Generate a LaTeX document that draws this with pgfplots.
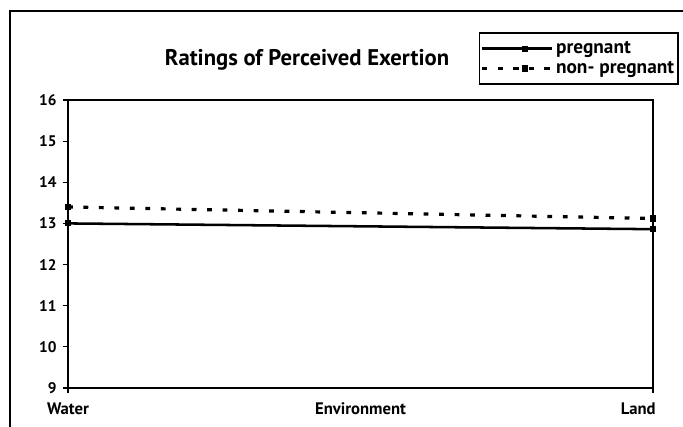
\documentclass[border=0pt]{standalone}
\usepackage{fontspec}
\setmainfont{PT Sans}
\usepackage{pgfplots}
\pgfplotsset{compat=1.18}

\begin{document}
\begin{tikzpicture}
% 1 px of the reference = 0.75pt
\useasboundingbox (-51pt,-29.25pt) rectangle (461.25pt,291pt);
\draw[line width=0.9pt] (-43.5pt,-29.25pt) -- (-43.5pt,282.75pt) -- (461.25pt,282.75pt);
\begin{axis}[
    at={(0,0)}, anchor=south west,
    scale only axis,
    width=438.75pt, height=216pt,
    xmin=0, xmax=1,
    ymin=9, ymax=16,
    ytick={9,10,...,16},
    xtick={0,1},
    xticklabels={Water,\makebox[0pt][r]{Land\hspace*{-2pt}}},
    extra x ticks={0.5},
    extra x tick labels={Environment},
    extra x tick style={major tick length=0pt, tick label style={yshift=-4pt}},
    xtick pos=bottom, ytick pos=left,
    tick align=outside,
    major tick length=4pt,
    tick style={line width=0.9pt, black},
    axis line style={line width=1.2pt},
    /pgf/number format/assume math mode=true,
    ticklabel style={font=\fontsize{11.5}{13}\selectfont\bfseries},
    xticklabel style={font=\fontsize{12.5}{14}\selectfont\bfseries, text height=9pt, yshift=-3pt},
    yticklabel style={xshift=-1pt},
    legend style={
        at={(1.0444,1.236)}, anchor=north east,
        draw=black, line width=1.3pt,
        font=\fontsize{14.5}{16}\selectfont\bfseries,
        inner xsep=1pt, inner ysep=4.5pt,
        row sep=0pt,
        legend cell align=left,
        /tikz/every even column/.append style={column sep=0pt},
    },
    legend image code/.code={
        \path (0pt,0pt) -- (52pt,0pt);
        \draw[#1, mark repeat=2, mark phase=2]
            plot coordinates {(12pt,0pt) (32pt,0pt) (52pt,0pt)};
    },
]
\addplot[black, line width=1.9pt, mark=square*, mark size=1.3pt,
         mark options={solid}]
    coordinates {(0,13.00) (1,12.86)};
\addlegendentry{pregnant}
\addplot[black, line width=2.4pt, dash pattern=on 3.6pt off 8pt,
         mark=square*, mark size=1.3pt, mark options={solid}]
    coordinates {(0,13.40) (1,13.12)};
\addlegendentry{non- pregnant}
\end{axis}
\node[font=\fontsize{17}{19}\selectfont\bfseries] at (179.25pt,246pt)
    {Ratings of Perceived Exertion};
\end{tikzpicture}
\end{document}
